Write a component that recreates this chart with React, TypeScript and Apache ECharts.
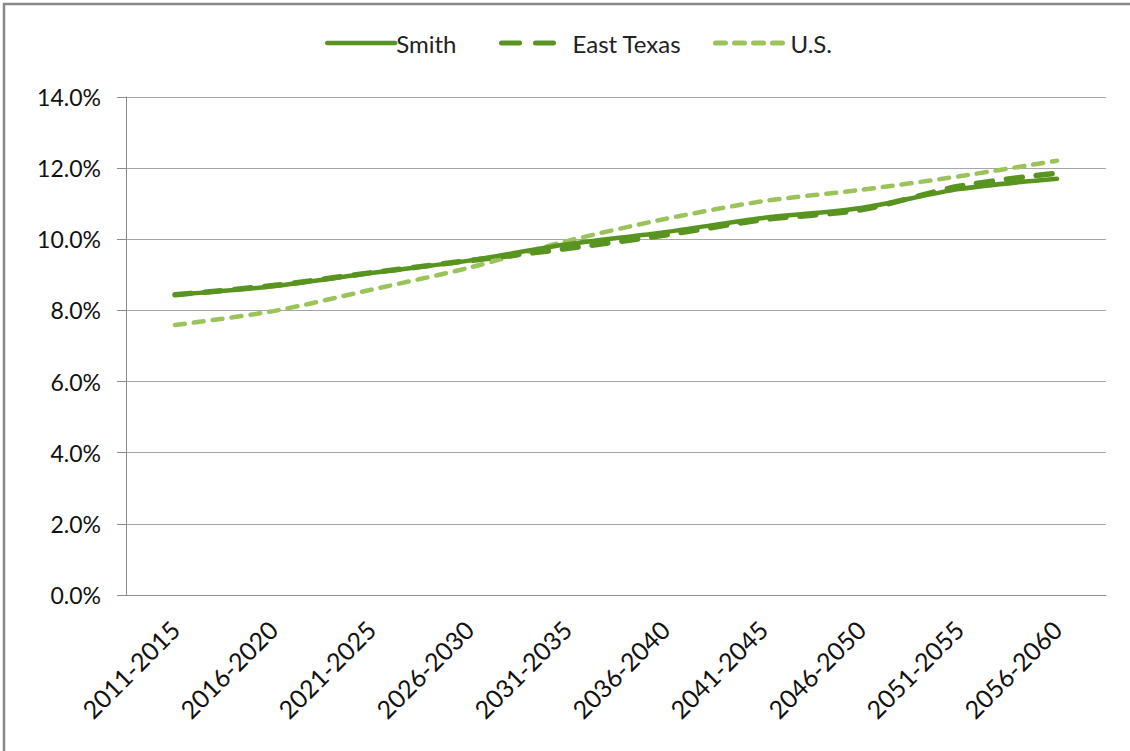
import React, { useEffect, useRef } from "react";
import * as echarts from "echarts";

const categories = [
  "2011-2015", "2016-2020", "2021-2025", "2026-2030", "2031-2035",
  "2036-2040", "2041-2045", "2046-2050", "2051-2055", "2056-2060",
];
const smith = [8.44, 8.68, 9.05, 9.4, 9.86, 10.2, 10.6, 10.88, 11.41, 11.7];
const eastTexas = [8.44, 8.7, 9.06, 9.4, 9.74, 10.12, 10.55, 10.83, 11.49, 11.86];
const us = [7.59, 7.98, 8.58, 9.2, 9.95, 10.57, 11.07, 11.39, 11.77, 12.21];
const yTicks = { min: 0, max: 14, interval: 2 };

const FONT = "Lato";
const DARK = "#5a9420";
const LIGHT = "#9bc35a";

export default function App() {
  const ref = useRef<HTMLDivElement>(null);
  useEffect(() => {
    const chart = echarts.init(ref.current!, null, { renderer: "svg" });
    const legendText = { fontFamily: FONT, fontSize: 24, color: "#222" };
    const legendBase = { top: 26, itemHeight: 14, itemGap: 0, itemStyle: { opacity: 0 } };
    chart.setOption({
      animation: false,
      backgroundColor: "#fff",
      legend: [
        { ...legendBase, data: ["Smith"], left: 320, itemWidth: 68,
          lineStyle: { width: 4.5, type: "solid", cap: "round", color: DARK },
          textStyle: { ...legendText, padding: [0, 0, 0, -4] } },
        { ...legendBase, data: ["East Texas"], left: 494, itemWidth: 58,
          lineStyle: { width: 5, type: [18, 16], cap: "round", color: DARK },
          textStyle: { ...legendText, padding: [0, 0, 0, 8] } },
        { ...legendBase, data: ["U.S."], left: 708, itemWidth: 76,
          lineStyle: { width: 5, type: [10, 9], cap: "round", color: LIGHT },
          textStyle: { ...legendText, padding: [0, 0, 0, -6] } },
      ],
      grid: { left: 126, right: 24, top: 97, bottom: 156, containLabel: false },
      xAxis: {
        type: "category",
        data: categories,
        boundaryGap: true,
        axisLine: { lineStyle: { color: "#8c8c8c", width: 1 } },
        axisTick: { length: 10, lineStyle: { color: "#8c8c8c" } },
        axisLabel: { rotate: 45, fontFamily: FONT, fontSize: 25, color: "#111", margin: 30 },
      },
      yAxis: {
        type: "value",
        min: yTicks.min,
        max: yTicks.max,
        interval: yTicks.interval,
        axisLine: { show: true, lineStyle: { color: "#8c8c8c", width: 1 } },
        axisTick: { show: true, inside: false, length: 9, lineStyle: { color: "#8c8c8c" } },
        splitLine: { lineStyle: { color: "#a6a6a6", width: 1 } },
        axisLabel: { fontFamily: FONT, fontSize: 23, color: "#111", margin: 25, formatter: (v: number) => v.toFixed(1) + "%" },
      },
      series: [
        { name: "Smith", type: "line", data: smith, smooth: 0.3, symbol: "none", z: 3,
          lineStyle: { color: DARK, width: 4.5, cap: "round" }, itemStyle: { color: DARK } },
        { name: "East Texas", type: "line", data: eastTexas, smooth: 0.3, symbol: "none", z: 2,
          lineStyle: { color: DARK, width: 5.5, type: [16, 14], cap: "round" }, itemStyle: { color: DARK } },
        { name: "U.S.", type: "line", data: us, smooth: 0.3, symbol: "none", z: 1,
          lineStyle: { color: LIGHT, width: 4.5, type: [10, 9], cap: "round" }, itemStyle: { color: LIGHT } },
      ],
      graphic: [
        { type: "line", shape: { x1: 3, y1: 4, x2: 1130, y2: 4 }, style: { stroke: "#888", lineWidth: 2.5 }, silent: true },
        { type: "line", shape: { x1: 4, y1: 3, x2: 4, y2: 751 }, style: { stroke: "#888", lineWidth: 2.5 }, silent: true },
      ],
    });
    return () => chart.dispose();
  }, []);
  return <div ref={ref} style={{ position: "absolute", left: 0, top: 0, width: 1130, height: 751 }} />;
}
